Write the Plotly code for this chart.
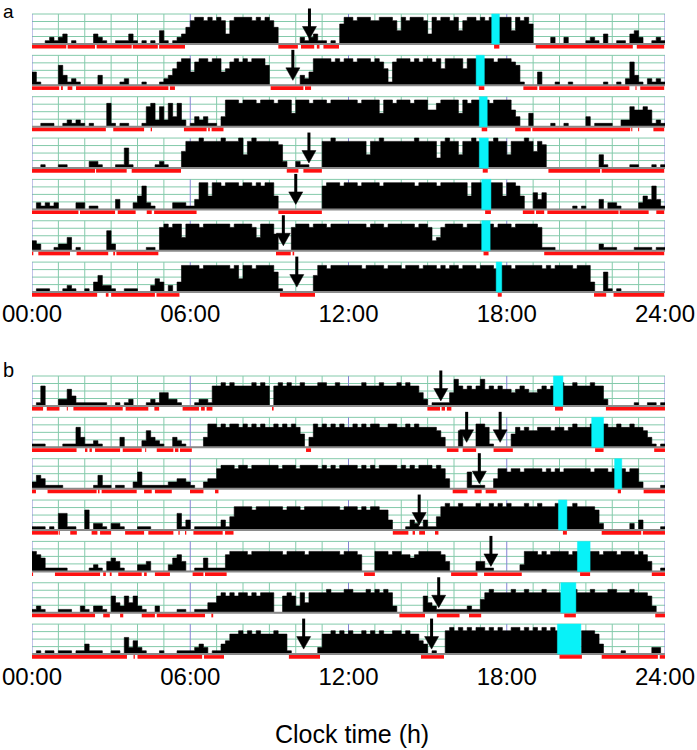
import plotly.graph_objects as go

# ---------------- data ----------------
TICK_HOURS = [0, 6, 12, 18, 24]
TICK_TEXT = ["00:00", "06:00", "12:00", "18:00", "24:00"]
X_TITLE = "Clock time (h)"
PANEL_LABELS = ["a", "b"]

# activity per 10-min bin (0-9 = fraction of row height in ninths), 6 bins per hour
act_a1 = "000121 230100 003210 011131 010104 101235 788787 873788 887878 750000 021231 101068 878887 788874 878887 387887 847887 878888 848786 000020 020000 121030 011034 200121"
act_a2 = "410000 631210 000300 001200 010001 235788 478878 845787 878886 000000 032488 887878 878887 875178 887878 878588 885888 888788 876100 040001 001000 000010 010273 102121"
act_a3 = "001110 012121 010007 101100 016726 273720 132311 038887 888788 878884 888788 878888 887888 848878 887888 557888 848788 887888 853004 000010 010000 301111 002265 565121"
act_a4 = "001000 110000 022100 011610 000012 100058 889888 898889 489888 887200 211000 889888 888848 898888 888988 883898 848898 888988 488898 587000 000000 000410 000011 000101"
act_a5 = "021212 000022 011000 030002 472100 002221 138848 878887 887878 840000 000000 788878 887888 878888 888788 887888 888488 878884 887400 535000 000101 000302 210000 243731"
act_a6 = "320001 224010 000006 200000 001107 878848 887888 888788 887488 850007 888788 878888 888878 887888 888788 734788 887888 888788 878888 871110 000000 000211 100001 111011"
act_a7 = "011100 012100 103522 100111 000243 020388 887888 888784 887888 861000 000058 878888 888788 887888 788878 887878 878887 888788 878888 887878 888788 830061 010000 000000"

act_b1 = "016000 225311 111110 010120 001214 422100 012216 676766 667676 067676 676667 766766 666766 676667 676642 011114 865656 856565 545654 456567 766766 676620 000001 001101"
act_b2 = "111000 011163 112100 003000 025321 003210 000377 676776 767676 676767 640376 767676 676767 766776 676766 665300 050007 761000 046565 566656 656766 677776 676676 653101"
act_b3 = "243111 100000 001411 011002 511111 122332 100233 677767 767777 776777 677776 767677 776767 677776 767677 767630 000511 100366 566566 665656 566666 656665 666566 200001"
act_b4 = "111010 551100 602210 221000 111000 000513 011111 131477 776777 777677 767777 777767 776767 766300 013213 114787 787778 778787 877787 787778 877877 776200 000020 300001"
act_b5 = "654111 110000 012103 431000 223000 024530 011411 115666 656666 666566 665666 666656 665000 666566 554566 666530 000003 311000 000266 656566 665666 666566 656665 653001"
act_b6 = "121000 111002 102210 532535 210020 000110 011133 565656 656566 600565 263666 676667 766676 767620 000005 321111 111211 467666 676676 667666 666766 676667 766676 665200"
act_b7 = "010110 111011 311100 110524 210001 000111 123201 134667 676766 676610 000002 667676 766767 676677 676643 010078 787878 878787 788787 878787 000007 776300 001000 000220"

activity_a = [act_a1, act_a2, act_a3, act_a4, act_a5, act_a6, act_a7]
activity_b = [act_b1, act_b2, act_b3, act_b4, act_b5, act_b6, act_b7]

# rest periods (red bars), hours
red_a = [
    [(0, 1.3), (1.35, 2.39), (2.45, 3.78), (3.82, 4.77), (4.82, 5.8), (9.34, 10.08), (10.2, 10.7), (10.8, 10.9), (11.05, 11.64), (17.52, 17.72), (19.1, 22.78), (22.93, 23.97)],
    [(0, 1.03), (1.1, 1.17), (1.35, 1.53), (1.67, 5.17), (5.23, 5.42), (9.05, 10.29), (10.35, 10.58), (16.94, 17.15), (18.63, 19.16), (19.23, 22.65), (22.88, 22.92), (23.06, 23.97)],
    [(0, 2.8), (3.08, 4.25), (4.5, 4.55), (5.76, 6.62), (6.68, 6.74), (6.81, 7.26), (17.05, 17.26), (18.32, 18.91), (18.97, 22.68), (22.72, 22.76), (22.98, 23.02), (23.56, 23.97)],
    [(0, 2.39), (2.43, 3.59), (3.78, 5.65), (9.66, 10.1), (10.29, 10.99), (17.09, 17.28), (19.58, 21.54), (21.6, 23.97)],
    [(0, 1.76), (1.82, 3.15), (3.25, 3.93), (4.35, 4.54), (4.63, 6.24), (9.34, 10.99), (17.18, 17.4), (18.61, 19.05), (19.11, 19.42), (19.54, 22.24), (22.28, 23.38), (23.67, 23.97)],
    [(0, 0.05), (0.24, 1.44), (1.69, 2.89), (3.08, 3.15), (3.2, 4.79), (9.25, 9.81), (9.88, 9.94), (17.12, 17.31), (19.42, 23.97)],
    [(0, 2.47), (2.8, 2.9), (3.0, 4.66), (4.72, 5.59), (9.4, 10.73), (17.66, 17.81), (21.31, 21.77), (22.05, 23.97)],
]
red_b = [
    [(0, 0.42), (0.56, 1.04), (1.32, 1.36), (1.57, 3.44), (3.55, 4.41), (4.64, 4.82), (5.71, 6.33), (6.41, 6.55), (6.62, 6.84), (9.1, 9.16), (14.99, 15.47), (15.53, 15.66), (15.73, 15.9), (19.83, 20.13), (21.76, 24)],
    [(0, 1.69), (2.01, 2.1), (2.18, 2.27), (2.39, 3.34), (3.44, 4.16), (4.29, 4.33), (4.73, 5.36), (5.42, 5.55), (5.61, 6.06), (10.39, 10.58), (15.73, 16.17), (16.33, 16.84), (17.5, 18.23), (21.35, 21.67), (23.59, 24)],
    [(0, 0.15), (0.59, 2.45), (2.5, 2.56), (2.64, 3.97), (4.25, 4.54), (4.66, 5.3), (5.99, 6.5), (6.94, 7.07), (15.95, 16.51), (16.78, 17.05), (17.2, 17.62), (22.21, 22.33), (23.19, 24)],
    [(0, 1.0), (1.03, 1.06), (1.45, 1.7), (2.26, 2.48), (2.58, 3.0), (3.53, 4.25), (4.41, 5.36), (5.55, 5.6), (5.8, 5.85), (6.12, 7.23), (7.32, 7.64), (13.68, 14.27), (14.43, 14.52), (14.68, 14.9), (15.28, 15.41), (20.13, 20.28), (21.6, 23.1), (23.16, 24)],
    [(0, 0.04), (0.87, 2.58), (2.7, 2.8), (2.95, 3.02), (3.27, 4.16), (4.25, 4.35), (4.66, 5.23), (6.09, 6.5), (6.56, 7.38), (12.59, 13.0), (15.89, 16.89), (17.14, 18.57), (20.78, 21.16), (23.5, 24)],
    [(0, 2.39), (2.7, 2.95), (3.34, 3.46), (4.16, 4.66), (4.73, 6.56), (6.8, 6.87), (13.93, 14.9), (15.35, 16.21), (16.57, 17.03), (20.18, 20.62), (23.63, 24)],
    [(0, 3.6), (3.85, 3.9), (4.0, 6.45), (6.52, 7.28), (9.74, 10.92), (14.75, 15.62), (20.0, 20.85), (21.6, 23.73), (23.8, 24)],
]

# light pulses (cyan), hours
cyan_a = [(17.43, 17.72), (16.84, 17.15), (16.96, 17.26), (16.96, 17.3), (17.05, 17.4), (17.05, 17.37), (17.6, 17.81)]
cyan_b = [(19.77, 20.13), (21.22, 21.67), (22.09, 22.36), (19.96, 20.28), (20.68, 21.16), (20.05, 20.62), (19.92, 20.81)]

# arrows, hours
arrows_a = [[10.52], [9.89], [], [10.5], [10.0], [9.53], [10.04]]
arrows_b = [[15.5], [16.48, 17.75], [16.96], [14.68], [17.4], [15.42], [10.3, 15.15]]

# ---------------- style / layout ----------------
W, H = 697, 750
X0, X1 = 32, 665
BOX_H = 30.0
PITCH = 41.35
BASE_A = 44.0
BASE_B = 406.0
GREEN = "#84caab"
BLUE = "#8585d4"
GRAY = "#8a8a8a"
RED = "#ff1010"
CYAN = "#08f2f8"
FONT = "Liberation Sans, Arial, sans-serif"
HEAD_HALF = 7.0 / ((X1 - X0) / 24.0)   # half width of arrow head in hours (7 px)

fig = go.Figure()


def add_panel(act_rows, red_rows, cyan_rows, arrow_rows, base0, xa, ya):
    bases = [base0 + PITCH * i for i in range(len(act_rows))]
    gx, gy, bx, by, kx, ky = [], [], [], [], [], []
    for b in bases:
        top = b - BOX_H
        for hr in range(25):
            if hr % 6 == 0:
                bx += [hr, hr, None]; by += [top, b, None]
            else:
                gx += [hr, hr, None]; gy += [top, b, None]
        for f in (0.25, 0.5, 0.75, 1.0):
            gx += [0, 24, None]; gy += [b - f * BOX_H, b - f * BOX_H, None]
        kx += [0, 24, None]; ky += [b, b, None]
    common = dict(xaxis=xa, yaxis=ya, hoverinfo="skip", showlegend=False)
    fig.add_trace(go.Scatter(x=gx, y=gy, mode="lines", line=dict(color=GREEN, width=1), **common))
    fig.add_trace(go.Scatter(x=bx, y=by, mode="lines", line=dict(color=BLUE, width=1), **common))

    # activity
    ax_, ay_ = [], []
    for b, s in zip(bases, act_rows):
        vals = [int(c) for c in s.replace(" ", "")]
        step = 24.0 / len(vals)
        ax_.append(0); ay_.append(b)
        for k, v in enumerate(vals):
            h = v / 9.0 * BOX_H
            ax_ += [k * step, (k + 1) * step]; ay_ += [b - h, b - h]
        ax_ += [24, None]; ay_ += [b, None]
    fig.add_trace(go.Scatter(x=ax_, y=ay_, mode="lines", fill="toself", fillcolor="black",
                             line=dict(color="black", width=0.6), **common))
    # baseline
    fig.add_trace(go.Scatter(x=kx, y=ky, mode="lines", line=dict(color=GRAY, width=2), **common))

    # cyan
    cx, cy = [], []
    for b, (s, e) in zip(bases, cyan_rows):
        cx += [s, e, e, s, s, None]; cy += [b - BOX_H, b - BOX_H, b, b, b - BOX_H, None]
    fig.add_trace(go.Scatter(x=cx, y=cy, mode="lines", fill="toself", fillcolor=CYAN,
                             line=dict(color=CYAN, width=0.5), **common))

    # red rest bars
    rx, ry = [], []
    for b, segs in zip(bases, red_rows):
        for s, e in segs:
            rx += [s, e, None]; ry += [b + 2.8, b + 2.8, None]
    fig.add_trace(go.Scatter(x=rx, y=ry, mode="lines", line=dict(color=RED, width=3.6), **common))

    # arrows
    sx, sy, hx, hy = [], [], [], []
    for b, ts in zip(bases, arrow_rows):
        for t in ts:
            sx += [t, t, None]; sy += [b - 35.5, b - 16, None]
            hx += [t - HEAD_HALF, t + HEAD_HALF, t, t - HEAD_HALF, None]
            hy += [b - 17.5, b - 17.5, b - 5, b - 17.5, None]
    fig.add_trace(go.Scatter(x=sx, y=sy, mode="lines", line=dict(color="black", width=3), **common))
    fig.add_trace(go.Scatter(x=hx, y=hy, mode="lines", fill="toself", fillcolor="black",
                             line=dict(color="black", width=0.5), **common))


add_panel(activity_a, red_a, cyan_a, arrows_a, BASE_A, "x", "y")
add_panel(activity_b, red_b, cyan_b, arrows_b, BASE_B, "x2", "y2")

xdom = [X0 / W, X1 / W]
A_TOP, A_BOT = 4, 297
B_TOP, B_BOT = 366, 660
xcommon = dict(range=[0, 24], domain=xdom, showgrid=False, zeroline=False, showline=False,
               ticks="", tickvals=TICK_HOURS, ticktext=TICK_TEXT, automargin=False,
               ticklabeloverflow="allow", fixedrange=True,
               tickfont=dict(family=FONT, size=24, color="black"))
ycommon = dict(showgrid=False, zeroline=False, showline=False, showticklabels=False, ticks="",
               automargin=False, fixedrange=True)

fig.update_layout(
    width=W, height=H,
    margin=dict(l=0, r=0, t=0, b=0, autoexpand=False),
    paper_bgcolor="white", plot_bgcolor="white",
    hovermode=False,
    xaxis=dict(anchor="y", **xcommon),
    yaxis=dict(anchor="x", domain=[1 - A_BOT / H, 1 - A_TOP / H], range=[A_BOT, A_TOP], **ycommon),
    xaxis2=dict(anchor="y2", **xcommon),
    yaxis2=dict(anchor="x2", domain=[1 - B_BOT / H, 1 - B_TOP / H], range=[B_BOT, B_TOP], **ycommon),
    annotations=[
        dict(text=PANEL_LABELS[0], x=8 / W, y=1.0, xref="paper", yref="paper",
             showarrow=False, xanchor="center", yanchor="top", borderpad=0,
             font=dict(family=FONT, size=19, color="black")),
        dict(text=PANEL_LABELS[1], x=8 / W, y=1 - 370 / H, xref="paper", yref="paper",
             showarrow=False, xanchor="center", yanchor="middle",
             font=dict(family=FONT, size=20, color="black")),
        dict(text=X_TITLE, x=352 / W, y=1 - 734 / H, xref="paper", yref="paper",
             showarrow=False, xanchor="center", yanchor="middle",
             font=dict(family=FONT, size=25, color="black")),
    ],
)

# the page body has a default 8 px margin; remove it so the figure fills the window exactly
fig.write_html("out.html", config={"displayModeBar": False, "staticPlot": True},
               post_script="document.body.style.margin='0';")
